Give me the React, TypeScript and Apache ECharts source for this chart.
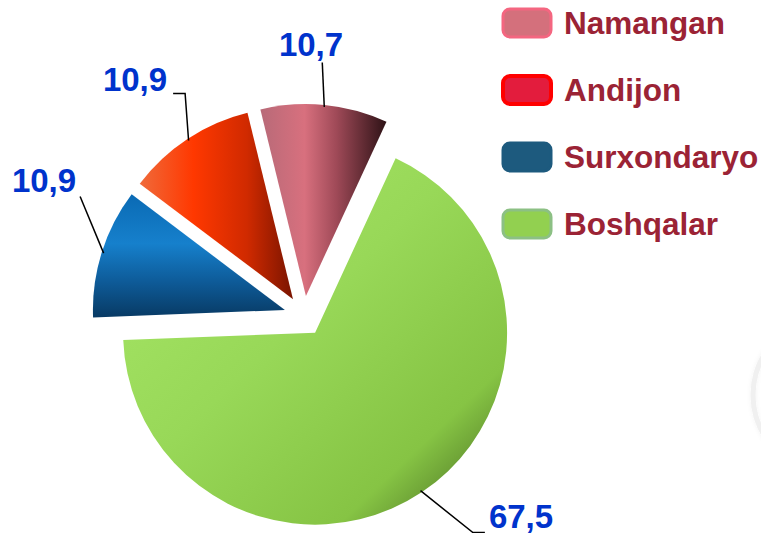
import React, { useEffect, useRef } from "react";
import * as echarts from "echarts";

const categories = ["Namangan", "Andijon", "Surxondaryo", "Boshqalar"];
const values = [10.7, 10.9, 10.9, 67.5];
const legendColors = ["#D4707C", "#E31C3D", "#1D5A7E", "#92D050"];
const legendBorders = ["#F46680", "#FF0000", "#1D5A7E", "#8CC084"];

const sliceFills = [
  new echarts.graphic.LinearGradient(0, 0, 1, 0, [
    { offset: 0, color: "#B86A78" },
    { offset: 0.35, color: "#D8707E" },
    { offset: 0.6, color: "#A04A58" },
    { offset: 1, color: "#2E1216" },
  ]),
  new echarts.graphic.LinearGradient(0, 0, 1, 0, [
    { offset: 0, color: "#F06A3A" },
    { offset: 0.35, color: "#FF3800" },
    { offset: 0.7, color: "#D02A00" },
    { offset: 1, color: "#7A1400" },
  ]),
  new echarts.graphic.LinearGradient(0, 0, 0, 1, [
    { offset: 0, color: "#0A6AB4" },
    { offset: 0.4, color: "#1680CC" },
    { offset: 0.7, color: "#0E5C9A" },
    { offset: 1, color: "#083A64" },
  ]),
  new echarts.graphic.LinearGradient(0, 0, 1, 1, [
    { offset: 0, color: "#A8E868" },
    { offset: 0.45, color: "#98D858" },
    { offset: 0.78, color: "#86C444" },
    { offset: 1, color: "#3A5A1A" },
  ]),
];

// layout constants
const CENTER = [304, 316];
const RADIUS = 192;
const OFFSET = 20;
// label centre positions (layout only)
const labelCenters = [
  [311, 44],
  [135, 79],
  [44, 180],
  [521, 516],
];

export default function App() {
  const ref = useRef<HTMLDivElement>(null);
  useEffect(() => {
    document.body.style.margin = "0";
    const chart = echarts.init(ref.current!, undefined, { renderer: "svg" });
    const common = {
      type: "pie",
      center: CENTER,
      radius: [0, RADIUS],
      startAngle: 65.2,
      clockwise: false,
      emphasis: { disabled: true },
    };
    chart.setOption({
      animation: false,
      backgroundColor: "#ffffff",
      graphic: [
        {
          type: "circle",
          silent: true,
          shape: { cx: 832, cy: 395, r: 79 },
          style: {
            fill: "none",
            stroke: "#f0f0f0",
            lineWidth: 5,
            shadowBlur: 4,
            shadowColor: "rgba(0,0,0,0.05)",
          },
        },
      ],
      legend: {
        orient: "vertical",
        left: 501,
        top: 7,
        padding: 0,
        itemWidth: 48,
        itemHeight: 28,
        itemGap: 35,
        icon: "roundRect",
        selectedMode: false,
        textStyle: {
          color: "#9B2335",
          fontSize: 31.5,
          lineHeight: 30,
          fontWeight: "bold",
          fontFamily: "Liberation Sans, Arial, sans-serif",
          padding: [0, 0, 0, 8],
        },
        data: categories.map((n, i) => ({
          name: n,
          itemStyle: {
            color: legendColors[i],
            borderColor: legendBorders[i],
            borderWidth: i === 1 ? 4 : 3,
          },
        })),
      },
      series: [
        {
          ...common,
          selectedMode: "multiple",
          selectedOffset: OFFSET,
          label: { show: false },
          labelLine: { show: false },
          data: categories.map((n, i) => ({
            name: n,
            value: values[i],
            selected: true,
            itemStyle: { color: sliceFills[i] },
          })),
        },
        {
          ...common,
          silent: true,
          z: 3,
          itemStyle: { color: "rgba(0,0,0,0)" },
          data: categories.map((n, i) => ({ name: n, value: values[i] })),
          label: {
            show: true,
            position: "outside",
            formatter: (p: any) => String(p.value).replace(".", ","),
            color: "#0033CC",
            fontSize: 33,
            lineHeight: 30,
            fontWeight: "bold",
            fontFamily: "Liberation Sans, Arial, sans-serif",
          },
          labelLine: {
            show: true,
            length: 20,
            length2: 10,
            lineStyle: { color: "#000000", width: 1.5 },
          },
          labelLayout: (p: any) => {
            const i = p.dataIndex;
            const [cx, cy] = labelCenters[i];
            const w = p.labelRect.width;
            const h = p.labelRect.height;
            const a0 = p.labelLinePoints ? p.labelLinePoints[0] : [cx, cy];
            const vx = a0[0] - CENTER[0];
            const vy = a0[1] - CENTER[1];
            const len = Math.sqrt(vx * vx + vy * vy) || 1;
            const anchor = [a0[0] + (vx / len) * (OFFSET - 2), a0[1] + (vy / len) * (OFFSET - 2)];
            const left = cx - w / 2;
            const right = cx + w / 2;
            const bottom = cy + h / 2 - 2;
            let pts: number[][];
            if (i === 0) {
              pts = [anchor, [anchor[0] - 2, bottom + 4]];
            } else if (i === 1) {
              pts = [anchor, [right + 18, bottom], [right + 6, bottom]];
            } else if (i === 2) {
              pts = [anchor, [right + 4, bottom + 2]];
            } else {
              pts = [anchor, [left - 16, bottom + 2], [left - 4, bottom + 2]];
            }
            return {
              x: cx,
              y: cy,
              align: "center",
              verticalAlign: "middle",
              labelLinePoints: pts,
            };
          },
        },
      ],
    });
    return () => chart.dispose();
  }, []);
  return <div ref={ref} style={{ width: 761, height: 533 }} />;
}
